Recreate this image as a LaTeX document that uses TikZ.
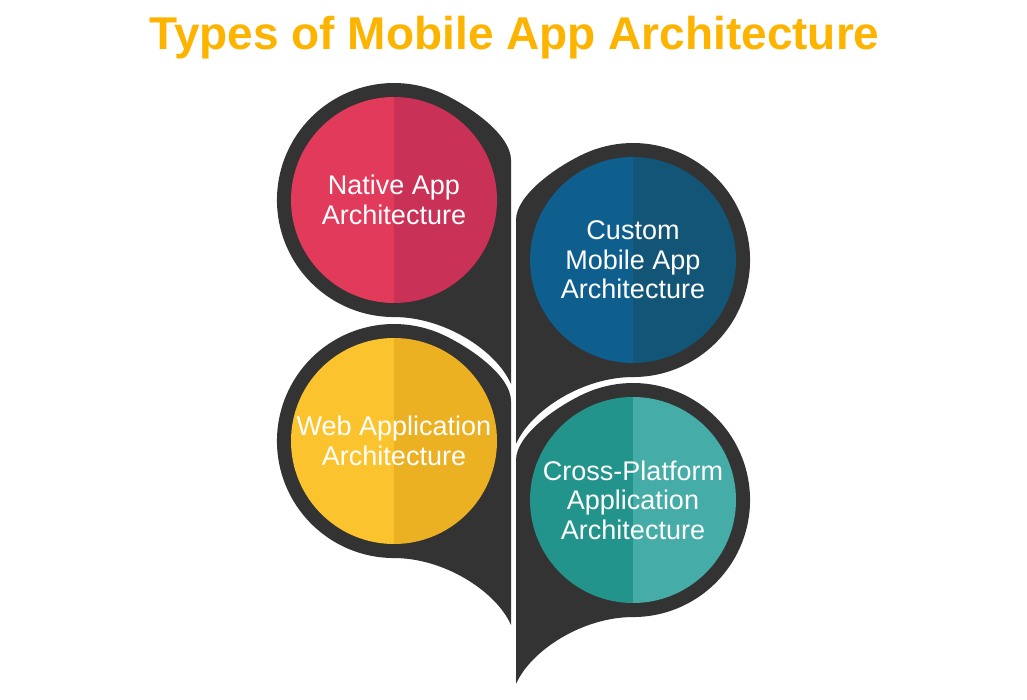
\documentclass[tikz,border=0pt]{standalone}
\usepackage{fontspec}
\setmainfont{Liberation Sans}
\usetikzlibrary{calc}

\definecolor{dropgray}{HTML}{333333}
\definecolor{titleorange}{HTML}{FDB400}
\definecolor{nativeL}{HTML}{E23A5A}
\definecolor{nativeR}{HTML}{C93156}
\definecolor{customL}{HTML}{0E5E8E}
\definecolor{customR}{HTML}{135576}
\definecolor{webL}{HTML}{FBC42E}
\definecolor{webR}{HTML}{ECB023}
\definecolor{crossL}{HTML}{23948C}
\definecolor{crossR}{HTML}{45ACA8}

\begin{document}
\begin{tikzpicture}[x=1pt,y=1pt,
  archtext/.style={text=white,align=center,font=\fontsize{27}{29.5}\selectfont}]

\useasboundingbox (0,0) rectangle (1027,-700);

% Title
\node[text=titleorange,font=\bfseries\fontsize{46}{50}\selectfont,anchor=base] (title) at (514.5,-50) {Types of Mobile App Architecture};

% Dark drops, left column points right, right column points left
\foreach \cx/\cy/\dir in {394/200/1, 394/441/1, 633/260/-1, 633/500/-1} {
\begin{scope}[shift={(\cx,-\cy)},xscale=\dir]
\fill[dropgray,preaction={draw=white,line width=8pt,line join=round}] (117,-184) -- (117,40)
  .. controls (117,65) and (76.6,93.3) .. (49.4,106) arc (65:270:117)
  .. controls (50,-117) and (102,-150) .. (117,-184) -- cycle;
\end{scope}
}

% Two-tone circles with the labels
\foreach \cx/\cy/\colL/\colR/\name/\txt in {
  394/200/nativeL/nativeR/native/{Native App\\Architecture},
  394/441/webL/webR/web/{Web Application\\Architecture},
  633/260/customL/customR/custom/{Custom\\Mobile App\\Architecture},
  633/500/crossL/crossR/cross/{Cross-Platform\\Application\\Architecture}} {
\fill[\colL] (\cx,-\cy) ++(90:103) arc (90:270:103) -- cycle;
\fill[\colR] (\cx,-\cy) ++(-90:103) arc (-90:90:103) -- cycle;
\node[archtext] (\name) at (\cx,-\cy) {\txt};
}

\end{tikzpicture}
\end{document}
